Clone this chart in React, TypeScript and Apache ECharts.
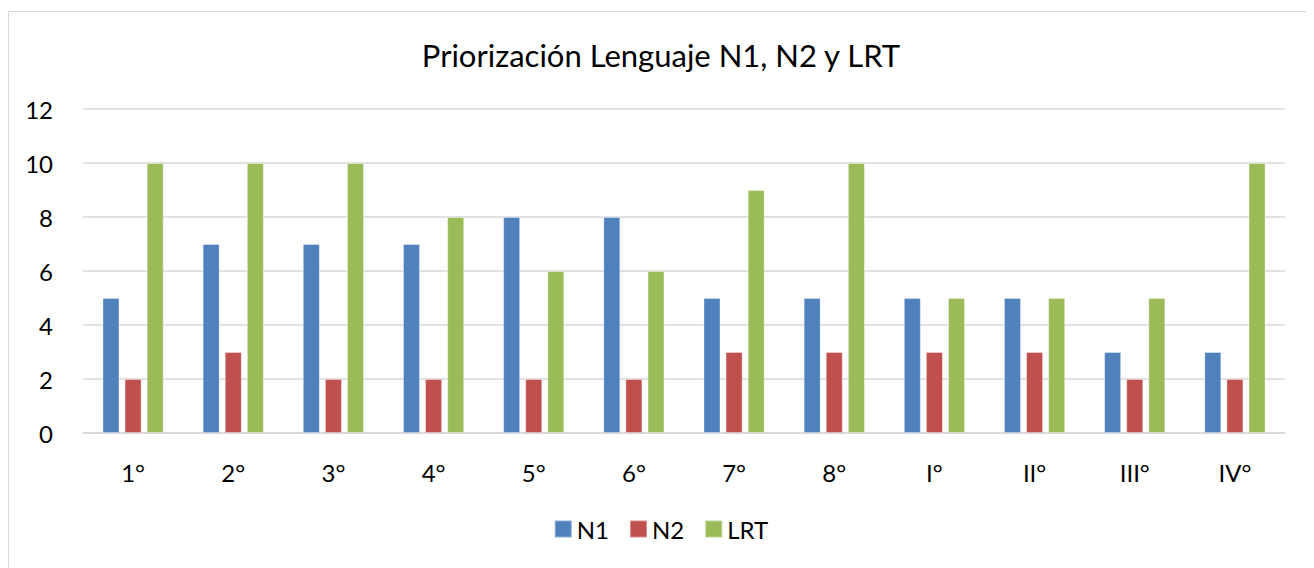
import React, { useEffect, useRef } from "react";
import * as echarts from "echarts";

const categories = ["1°", "2°", "3°", "4°", "5°", "6°", "7°", "8°", "I°", "II°", "III°", "IV°"];
const n1 = [5, 7, 7, 7, 8, 8, 5, 5, 5, 5, 3, 3];
const n2 = [2, 3, 2, 2, 2, 2, 3, 3, 3, 3, 2, 2];
const lrt = [10, 10, 10, 8, 6, 6, 9, 10, 5, 5, 5, 10];
const yTicks = { min: 0, max: 12, interval: 2 };
const titleText = "Priorización Lenguaje N1, N2 y LRT";

const FONT = "Lato, 'Noto Sans', sans-serif";

export default function App() {
  const ref = useRef<HTMLDivElement>(null);
  useEffect(() => {
    if (!ref.current) return;
    const chart = echarts.init(ref.current, undefined, { renderer: "svg" });
    const mk = (name: string, data: number[], color: string) => ({
      name,
      type: "bar",
      data,
      barWidth: 17,
      barGap: "30%",
      itemStyle: { color, borderColor: "rgba(255,255,255,0.35)", borderWidth: 1 },
    });
    chart.setOption({
      animation: false,
      textStyle: { fontFamily: FONT },
      title: {
        text: titleText,
        left: "center",
        top: 22,
        textStyle: { fontFamily: FONT, fontSize: 31, fontWeight: "normal", color: "#000" },
      },
      legend: {
        bottom: 23,
        left: "center",
        itemWidth: 17,
        itemHeight: 17,
        itemGap: 20,
        icon: "rect",
        textStyle: { fontFamily: FONT, fontSize: 24, color: "#000" },
        data: ["N1", "N2", "LRT"],
      },
      grid: { left: 74, right: 28, top: 97, bottom: 136, containLabel: false },
      xAxis: {
        type: "category",
        data: categories,
        axisTick: { show: false },
        axisLine: { lineStyle: { color: "#d9d9d9", width: 2 } },
        axisLabel: { fontFamily: FONT, fontSize: 24, color: "#000", margin: 27 },
      },
      yAxis: {
        type: "value",
        min: yTicks.min,
        max: yTicks.max,
        interval: yTicks.interval,
        axisLine: { show: false },
        axisTick: { show: false },
        splitLine: { lineStyle: { color: "#d9d9d9", width: 1.5 } },
        axisLabel: { fontFamily: FONT, fontSize: 24, color: "#000", margin: 30 },
      },
      series: [
        mk("N1", n1, "#4F81BD"),
        mk("N2", n2, "#C0504D"),
        mk("LRT", lrt, "#9BBB59"),
      ],
    });
    return () => chart.dispose();
  }, []);
  return (
    <div
      style={{
        marginTop: 3,
        width: 1304,
        height: 557,
        border: "1px solid #d9d9d9",
        borderBottom: "none",
        boxSizing: "content-box",
      }}
    >
      <div ref={ref} style={{ width: 1304, height: 557 }} />
    </div>
  );
}
